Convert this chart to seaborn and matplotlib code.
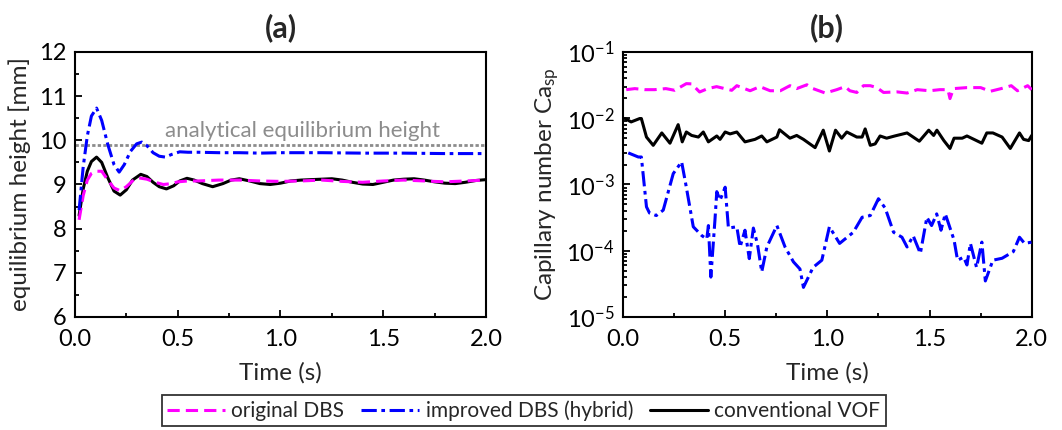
import numpy as np
import pandas as pd
import matplotlib
matplotlib.use("Agg")
import matplotlib.pyplot as plt
from matplotlib.ticker import MultipleLocator, LogLocator, NullFormatter
import seaborn as sns

# ---------------- data: panel (a) equilibrium height [mm] ----------------
t_a_orig = [0.02, 0.04, 0.06, 0.08, 0.10, 0.13, 0.16, 0.19, 0.22, 0.25, 0.28, 0.31, 0.35,
            0.39, 0.43, 0.47, 0.50, 0.55, 0.60, 0.70, 0.80, 0.90, 1.00, 1.10, 1.20, 1.30,
            1.40, 1.50, 1.60, 1.70, 1.80, 1.90, 2.00]
h_orig = [8.20, 8.75, 9.10, 9.25, 9.30, 9.30, 9.10, 8.92, 8.86, 8.95, 9.08, 9.15, 9.12,
          9.05, 9.00, 9.02, 9.06, 9.08, 9.08, 9.10, 9.10, 9.08, 9.07, 9.08, 9.10, 9.07,
          9.05, 9.08, 9.10, 9.08, 9.06, 9.08, 9.10]

t_a_hyb = [0.02, 0.04, 0.06, 0.08, 0.105, 0.13, 0.16, 0.19, 0.215, 0.24, 0.27, 0.30, 0.325,
           0.35, 0.38, 0.41, 0.44, 0.47, 0.51, 0.55, 0.60, 0.70, 0.80, 0.90, 1.00, 1.20,
           1.40, 1.60, 1.80, 2.00]
h_hyb = [8.42, 9.40, 10.10, 10.55, 10.73, 10.45, 9.90, 9.45, 9.28, 9.45, 9.75, 9.92, 9.96,
         9.88, 9.72, 9.64, 9.62, 9.68, 9.74, 9.73, 9.73, 9.72, 9.72, 9.71, 9.72, 9.72,
         9.71, 9.71, 9.70, 9.70]

t_a_vof = [0.02, 0.04, 0.06, 0.08, 0.105, 0.13, 0.16, 0.19, 0.22, 0.25, 0.28, 0.32, 0.35,
           0.38, 0.41, 0.445, 0.48, 0.51, 0.545, 0.58, 0.62, 0.67, 0.72, 0.76, 0.80, 0.85,
           0.90, 0.95, 1.00, 1.05, 1.10, 1.15, 1.20, 1.25, 1.30, 1.35, 1.40, 1.45, 1.50,
           1.55, 1.60, 1.65, 1.70, 1.75, 1.80, 1.85, 1.90, 1.95, 2.00]
h_vof = [8.30, 8.90, 9.30, 9.52, 9.62, 9.50, 9.15, 8.85, 8.76, 8.88, 9.10, 9.23, 9.18,
         9.05, 8.95, 8.90, 8.97, 9.08, 9.14, 9.10, 9.02, 8.95, 9.02, 9.10, 9.13, 9.08,
         9.02, 9.00, 9.03, 9.08, 9.10, 9.11, 9.12, 9.13, 9.10, 9.05, 9.01, 9.00, 9.05,
         9.10, 9.12, 9.13, 9.10, 9.06, 9.03, 9.02, 9.05, 9.09, 9.11]

h_analytical = 9.9

# ---------------- data: panel (b) capillary number ----------------
t_b_orig = [0.016, 0.058, 0.107, 0.155, 0.21, 0.253, 0.31, 0.336, 0.375, 0.415, 0.458,
            0.532, 0.557, 0.622, 0.67, 0.72, 0.77, 0.817, 0.85, 0.90, 0.93, 0.99, 1.046,
            1.087, 1.11, 1.144, 1.177, 1.21, 1.242, 1.275, 1.34, 1.39, 1.44, 1.50, 1.55,
            1.59, 1.60, 1.617, 1.683, 1.75, 1.797, 1.85, 1.90, 1.93, 1.98, 2.00]
ca_orig = [0.027, 0.028, 0.027, 0.027, 0.028, 0.0264, 0.0333, 0.033, 0.0249, 0.028, 0.030,
           0.0264, 0.031, 0.026, 0.030, 0.026, 0.026, 0.031, 0.028, 0.032, 0.028, 0.024, 0.027,
           0.030, 0.026, 0.0245, 0.031, 0.031, 0.029, 0.0245, 0.025, 0.024, 0.027, 0.026, 0.027,
           0.027, 0.0198, 0.028, 0.029, 0.029, 0.0255, 0.028, 0.031, 0.026, 0.031, 0.027]

t_b_hyb = [0.026, 0.075, 0.09, 0.115, 0.13, 0.163, 0.197, 0.246, 0.287, 0.31, 0.344, 0.385,
           0.41, 0.418, 0.43, 0.45, 0.459, 0.475, 0.50, 0.516, 0.557, 0.573, 0.597, 0.618,
           0.638, 0.658, 0.679, 0.704, 0.753, 0.793, 0.834, 0.866, 0.883, 0.93, 0.973, 1.01,
           1.06, 1.127, 1.17, 1.21, 1.25, 1.283, 1.324, 1.365, 1.39, 1.42, 1.455, 1.487, 1.51,
           1.535, 1.556, 1.577, 1.62, 1.637, 1.667, 1.683, 1.70, 1.73, 1.756, 1.773, 1.81,
           1.855, 1.91, 1.94, 1.965, 2.00]
ca_hyb = [0.0030, 0.0026, 0.0026, 0.00046, 0.00037, 0.00034, 0.00041, 0.00146, 0.0022,
          0.00091, 0.00023, 0.00017, 0.00015, 0.00024, 0.00004, 0.00029, 0.00078, 0.00058,
          0.00091, 0.00022, 0.00023, 0.000114, 0.000204, 0.000076, 0.00022, 0.000126,
          0.000048, 0.000114, 0.00024, 0.000114, 0.000068, 0.000053, 0.000028, 0.000056,
          0.000072, 0.00023, 0.000129, 0.00019, 0.00032, 0.00034, 0.00061, 0.00044, 0.00019,
          0.00016, 0.000114, 0.000168, 0.000091, 0.00032, 0.00024, 0.00036, 0.000204, 0.00036,
          0.000145, 0.000072, 0.00008, 0.000061, 0.000129, 0.000056, 0.000135, 0.000035,
          0.000072, 0.000077, 0.000097, 0.00016, 0.000129, 0.000135]

t_b_vof = [0.01, 0.04, 0.082, 0.09, 0.115, 0.148, 0.19, 0.23, 0.27, 0.29, 0.31, 0.336, 0.369,
           0.393, 0.418, 0.459, 0.475, 0.50, 0.524, 0.557, 0.597, 0.646, 0.679, 0.704, 0.753,
           0.766, 0.817, 0.85, 0.883, 0.94, 0.98, 1.01, 1.04, 1.07, 1.095, 1.144, 1.17, 1.185,
           1.21, 1.234, 1.258, 1.29, 1.33, 1.39, 1.45, 1.496, 1.52, 1.536, 1.57, 1.60, 1.62,
           1.66, 1.683, 1.756, 1.78, 1.81, 1.855, 1.895, 1.94, 1.96, 1.985, 2.00]
ca_vof = [0.0099, 0.0088, 0.0099, 0.0099, 0.0052, 0.0039, 0.0060, 0.0042, 0.0080, 0.0044,
          0.0062, 0.0055, 0.0052, 0.0062, 0.0044, 0.0054, 0.0048, 0.0062, 0.0058, 0.0062,
          0.0044, 0.0048, 0.0054, 0.0044, 0.0052, 0.0067, 0.0050, 0.0055, 0.0048, 0.0036,
          0.0066, 0.0032, 0.0066, 0.0050, 0.0062, 0.0052, 0.0052, 0.0069, 0.0039, 0.0041,
          0.0054, 0.0050, 0.0054, 0.0060, 0.0045, 0.0066, 0.0055, 0.0066, 0.0046, 0.0035,
          0.0050, 0.0050, 0.0054, 0.0042, 0.0060, 0.0060, 0.0052, 0.0035, 0.0060, 0.0048,
          0.0046, 0.0055]

labels = ["original DBS", "improved DBS (hybrid)", "conventional VOF"]
x_ticks = [0.0, 0.5, 1.0, 1.5, 2.0]

# ---------------- style ----------------
sns.set_theme(style="ticks")
FONT = ["Lato", "DejaVu Sans"]
plt.rcParams["font.family"] = FONT
plt.rcParams["mathtext.fontset"] = "custom"
plt.rcParams["mathtext.rm"] = "Lato"
plt.rcParams["mathtext.it"] = "Lato:italic"
plt.rcParams["mathtext.bf"] = "Lato:bold"

MAG = "#FF00FF"
BLUE = "#0000FF"
BLK = "#000000"
GRAY = "#8C8C8C"
LW = 2.2
TFS = 17   # tick labels
LFS = 17.5 # axis labels

fig = plt.figure(figsize=(10.62, 4.30), dpi=100)
ax1 = fig.add_axes([0.0706, 0.2628, 0.3870, 0.6163])
ax2 = fig.add_axes([0.5866, 0.2628, 0.3849, 0.6163])

dash_mag = (0, (4.0, 2.0))
dash_blue = (0, (5.0, 1.5, 1.2, 1.5))

# panel (a)
ax1.axhline(h_analytical, color=GRAY, lw=2.0, ls=(0, (1.2, 0.8)), zorder=1)
sns.lineplot(x=t_a_orig, y=h_orig, ax=ax1, color=MAG, lw=LW, linestyle=dash_mag,
             label=labels[0], zorder=3)
sns.lineplot(x=t_a_hyb, y=h_hyb, ax=ax1, color=BLUE, lw=LW, linestyle=dash_blue,
             label=labels[1], zorder=3)
sns.lineplot(x=t_a_vof, y=h_vof, ax=ax1, color=BLK, lw=LW, linestyle="-",
             label=labels[2], zorder=2)
ax1.text(0.44, 10.07, "analytical equilibrium height", color=GRAY, fontsize=16,
         ha="left", va="baseline")
ax1.set_xlim(0, 2.0)
ax1.set_ylim(6, 12)
ax1.yaxis.set_major_locator(MultipleLocator(1))
ax1.yaxis.set_minor_locator(MultipleLocator(0.5))
ax1.set_ylabel("equilibrium height [mm]", fontsize=LFS, labelpad=6)
ax1.set_title("(a)", fontsize=22, fontweight="bold", pad=11)
handles, _ = ax1.get_legend_handles_labels()
ax1.get_legend().remove()

# panel (b)
sns.lineplot(x=t_b_orig, y=ca_orig, ax=ax2, color=MAG, lw=LW, linestyle=dash_mag, zorder=3)
sns.lineplot(x=t_b_hyb, y=ca_hyb, ax=ax2, color=BLUE, lw=LW, linestyle=dash_blue, zorder=3)
sns.lineplot(x=t_b_vof, y=ca_vof, ax=ax2, color=BLK, lw=LW, linestyle="-", zorder=2)
ax2.set_yscale("log")
ax2.set_xlim(0, 2.0)
ax2.set_ylim(1e-5, 1e-1)
ax2.yaxis.set_major_locator(LogLocator(base=10, numticks=10))
ax2.yaxis.set_minor_locator(LogLocator(base=10, subs=np.arange(2, 10), numticks=20))
ax2.yaxis.set_minor_formatter(NullFormatter())
ax2.set_ylabel(r"Capillary number Ca$_{\mathrm{sp}}$", fontsize=LFS, labelpad=4)
ax2.set_title("(b)", fontsize=22, fontweight="bold", pad=11)

for ax in (ax1, ax2):
    ax.xaxis.set_major_locator(MultipleLocator(0.5))
    ax.xaxis.set_minor_locator(MultipleLocator(0.25))
    ax.set_xticks(x_ticks)
    ax.set_xticklabels([f"{v:.1f}" for v in x_ticks])
    ax.set_xlabel("Time (s)", fontsize=LFS, labelpad=8)
    for s in ax.spines.values():
        s.set_linewidth(1.5)
        s.set_color("black")
    ax.tick_params(which="both", direction="in", top=False, right=False,
                   labelsize=TFS, colors="black", width=1.3)
    ax.tick_params(which="major", length=5)
    ax.tick_params(which="minor", length=3)
    ax.tick_params(axis="x", pad=9)
    ax.tick_params(axis="y", pad=6)

leg = fig.legend(handles, labels, loc="center", bbox_to_anchor=(0.493, 0.045), ncol=3,
                 fontsize=15, frameon=True, fancybox=False, edgecolor="black",
                 handlelength=2.8, handletextpad=0.3, columnspacing=0.8,
                 borderpad=0.25, borderaxespad=0)
leg.get_frame().set_linewidth(1.3)

fig.savefig("out.png", dpi=100)
